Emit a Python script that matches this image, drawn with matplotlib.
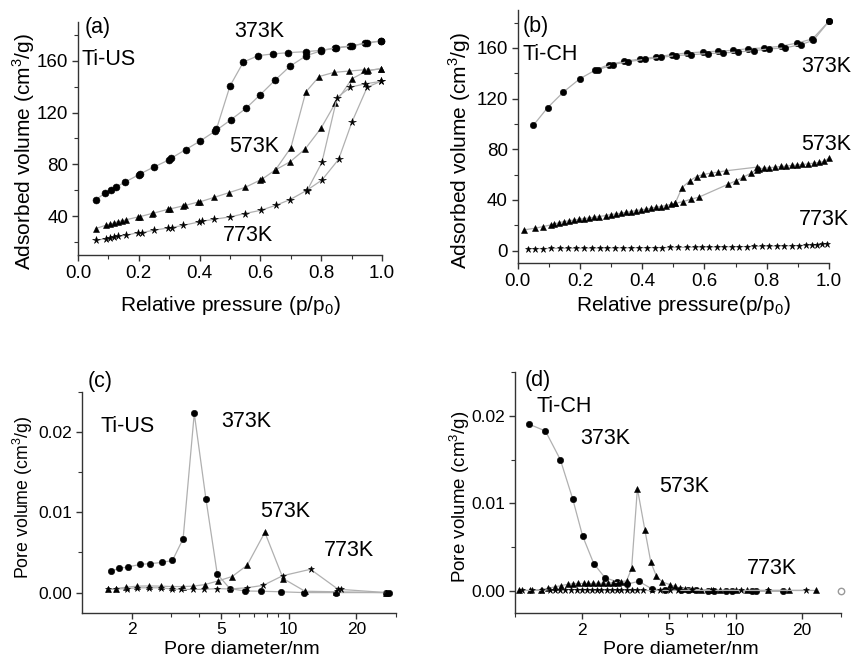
import matplotlib
matplotlib.use('Agg')
import matplotlib.pyplot as plt
from matplotlib.ticker import MultipleLocator, LogLocator, NullFormatter, FixedLocator

plt.rcParams['font.family'] = ['Liberation Sans', 'DejaVu Sans']
plt.rcParams['mathtext.fontset'] = 'custom'
plt.rcParams['mathtext.rm'] = 'Liberation Sans'

# ---------------- (a) Ti-US isotherms ----------------
a373_ads_x = [0.06, 0.09, 0.107, 0.126, 0.154, 0.200, 0.205, 0.249, 0.300, 0.305, 0.354, 0.400, 0.450,
              0.502, 0.553, 0.600, 0.648, 0.698, 0.751, 0.800, 0.846, 0.896, 0.945, 0.995]
a373_ads_y = [52.9, 58.1, 60.1, 62.7, 66.3, 72.0, 72.8, 77.9, 83.6, 84.6, 91.4, 97.8, 105.5,
              114.3, 123.4, 133.9, 145.0, 155.9, 163.9, 167.7, 169.8, 171.1, 173.7, 175.2]
a373_des_x = [0.995, 0.950, 0.900, 0.850, 0.800, 0.750, 0.690, 0.640, 0.593, 0.544, 0.500, 0.455]
a373_des_y = [175.2, 173.5, 171.5, 170.0, 168.0, 167.0, 166.2, 165.2, 163.9, 159.0, 140.6, 107.0]

a573_ads_x = [0.058, 0.091, 0.104, 0.119, 0.132, 0.146, 0.157, 0.198, 0.203, 0.242, 0.247, 0.297, 0.302,
              0.346, 0.351, 0.396, 0.401, 0.447, 0.495, 0.549, 0.599, 0.604, 0.648, 0.698, 0.747, 0.799,
              0.846, 0.901, 0.951, 0.995]
a573_ads_y = [30.5, 33.0, 33.8, 34.8, 35.9, 36.4, 37.2, 39.5, 39.6, 42.1, 42.3, 45.4, 45.6,
              48.0, 48.3, 51.0, 51.1, 54.5, 58.1, 62.2, 67.9, 68.4, 75.6, 82.1, 91.9, 107.9,
              127.2, 146.1, 152.3, 153.8]
a573_des_x = [0.995, 0.954, 0.941, 0.891, 0.842, 0.793, 0.749, 0.700, 0.650]
a573_des_y = [153.8, 152.5, 153.0, 152.0, 151.0, 147.8, 135.8, 92.9, 76.0]

a773_ads_x = [0.058, 0.091, 0.104, 0.119, 0.132, 0.157, 0.198, 0.209, 0.249, 0.297, 0.308, 0.346, 0.398,
              0.407, 0.448, 0.500, 0.549, 0.601, 0.651, 0.698, 0.753, 0.802, 0.857, 0.901, 0.951, 0.995]
a773_ads_y = [21.4, 22.7, 23.5, 24.0, 24.5, 25.3, 27.4, 27.4, 29.2, 31.0, 31.3, 33.0, 35.6,
              36.1, 37.7, 39.5, 42.1, 44.6, 48.5, 52.9, 60.1, 67.9, 83.9, 112.8, 139.6, 144.0]
a773_des_x = [0.995, 0.945, 0.896, 0.852, 0.802, 0.753]
a773_des_y = [144.0, 142.2, 139.6, 131.6, 81.5, 59.6]

# ---------------- (b) Ti-CH isotherms ----------------
b373_ads_x = [0.050, 0.096, 0.147, 0.200, 0.248, 0.292, 0.342, 0.394, 0.444, 0.495, 0.543, 0.594,
              0.642, 0.692, 0.741, 0.791, 0.845, 0.898, 0.947, 1.000]
b373_ads_y = [98.8, 112.8, 125.2, 135.7, 142.3, 146.8, 149.4, 151.3, 152.9, 154.7, 156.0, 156.8,
              157.4, 158.1, 159.4, 160.0, 161.3, 163.9, 167.1, 181.1]
b373_des_x = [1.000, 0.950, 0.909, 0.858, 0.807, 0.759, 0.708, 0.658, 0.610, 0.558, 0.508, 0.460,
              0.409, 0.355, 0.305, 0.257]
b373_des_y = [181.1, 166.0, 162.6, 160.0, 159.2, 157.9, 156.8, 156.0, 155.5, 154.7, 153.9, 152.6,
              151.0, 149.2, 146.8, 142.6]

b573_ads_x = [0.019, 0.056, 0.082, 0.107, 0.118, 0.134, 0.148, 0.164, 0.182, 0.198, 0.214, 0.230,
              0.246, 0.262, 0.283, 0.299, 0.316, 0.332, 0.348, 0.364, 0.380, 0.396, 0.412, 0.428,
              0.444, 0.460, 0.476, 0.492, 0.506, 0.532, 0.557, 0.582, 0.677, 0.701, 0.725, 0.750,
              0.768, 0.775, 0.791, 0.807, 0.827, 0.845, 0.861, 0.880, 0.898, 0.914, 0.934, 0.952,
              0.968, 0.984, 1.000]
b573_ads_y = [16.3, 17.7, 19.0, 20.3, 21.1, 22.1, 22.9, 23.5, 24.2, 24.8, 25.3, 25.8,
              26.4, 26.9, 27.7, 28.5, 29.0, 29.5, 30.3, 30.8, 31.6, 32.2, 32.7, 33.5,
              34.3, 34.8, 35.6, 36.4, 37.4, 38.7, 40.6, 42.2, 52.5, 55.1, 58.0, 61.2,
              64.0, 64.6, 65.1, 65.4, 65.9, 66.4, 66.7, 67.2, 67.5, 68.0, 68.5, 69.1,
              69.6, 70.4, 73.0]
b573_des_x = [0.768, 0.669, 0.645, 0.621, 0.596, 0.575, 0.554, 0.528, 0.506]
b573_des_y = [65.9, 63.0, 62.0, 61.2, 60.1, 58.5, 55.3, 49.8, 37.4]

b773_x = [0.033, 0.057, 0.081, 0.108, 0.135, 0.162, 0.188, 0.213, 0.239, 0.263, 0.288, 0.314, 0.339,
          0.365, 0.390, 0.415, 0.440, 0.465, 0.490, 0.515, 0.543, 0.570, 0.591, 0.616, 0.639, 0.663,
          0.687, 0.711, 0.736, 0.759, 0.784, 0.808, 0.832, 0.855, 0.880, 0.905, 0.926, 0.944, 0.960,
          0.977, 0.995]
b773_y = [1.5, 1.6, 1.6, 1.7, 1.8, 1.8, 1.9, 1.9, 2.0, 2.0, 2.1, 2.1, 2.2,
          2.2, 2.3, 2.3, 2.4, 2.4, 2.5, 2.5, 2.6, 2.7, 2.8, 2.8, 2.9, 3.0,
          3.0, 3.1, 3.2, 3.3, 3.4, 3.5, 3.6, 3.7, 3.8, 4.0, 4.2, 4.4, 4.6,
          4.9, 5.6]

# ---------------- (c) Ti-US pore size distribution ----------------
c373_x = [1.62, 1.76, 1.93, 2.18, 2.41, 2.72, 3.04, 3.39, 3.80, 4.28, 4.81, 5.47, 6.38, 7.52, 9.23,
          11.7, 16.3, 27.2, 27.8]
c373_y = [0.0027, 0.0030, 0.0032, 0.0035, 0.0036, 0.00375, 0.0040, 0.0067, 0.0223, 0.0117, 0.0023,
          0.0005, 0.0002, 0.00017, 0.0001, 0.0, 0.0, 0.0, 0.0]
c573_x = [1.57, 1.70, 1.89, 2.12, 2.40, 2.70, 3.01, 3.37, 3.76, 4.24, 4.86, 5.60, 6.53, 7.83, 9.44,
          11.8, 16.3, 27.2]
c573_y = [0.0004, 0.0005, 0.00067, 0.0008, 0.00083, 0.0008, 0.00075, 0.00075, 0.0008, 0.0010, 0.00146,
          0.0020, 0.0034, 0.0075, 0.00175, 0.00017, 0.0001, 0.0]
c773_x = [1.57, 1.71, 1.90, 2.12, 2.40, 2.70, 3.01, 3.33, 3.76, 4.20, 4.81, 5.47, 6.50, 7.70, 9.40,
          12.5, 16.6, 17.0, 27.2]
c773_y = [0.0004, 0.00045, 0.0005, 0.0006, 0.0006, 0.0006, 0.00045, 0.0004, 0.0004, 0.0004, 0.0005,
          0.00045, 0.0006, 0.0009, 0.0021, 0.0029, 0.0004, 0.0004, 0.0]

# ---------------- (d) Ti-CH pore size distribution ----------------
d373_x = [1.16, 1.37, 1.60, 1.82, 2.02, 2.27, 2.55, 2.88, 3.20, 3.63, 4.15, 4.76, 5.66, 6.1, 6.6,
          7.5, 8.0, 9.0, 9.6, 11.8, 12.3, 16.3]
d373_y = [0.0190, 0.01825, 0.0150, 0.01055, 0.0063, 0.00315, 0.00156, 0.0011, 0.0008, 0.00114, 0.0003,
          0.0001, 0.0001, 0.0001, 0.0001, 0.0, 0.0, 0.0, 0.0, 0.0, 0.0, 0.0]
d573_x = [1.04, 1.17, 1.31, 1.40, 1.51, 1.62, 1.73, 1.83, 1.93, 2.04, 2.14, 2.26, 2.38, 2.51, 2.64,
          2.78, 2.91, 3.03, 3.20, 3.37, 3.58, 3.87, 4.12, 4.37, 4.65, 5.02, 5.28, 5.57, 5.90, 6.30,
          6.99, 7.76, 8.46, 10.0, 11.3, 14.0, 17.5, 23.1]
d573_y = [0.0001, 0.0001, 0.0002, 0.00034, 0.0005, 0.00065, 0.0008, 0.00088, 0.0009, 0.0009, 0.0009,
          0.0009, 0.00092, 0.00092, 0.00095, 0.0010, 0.0010, 0.0011, 0.0012, 0.0026, 0.0117, 0.0070,
          0.0033, 0.0017, 0.00106, 0.00076, 0.00057, 0.00038, 0.0003, 0.00022, 0.00018, 0.00015,
          0.00013, 0.0001, 0.0001, 0.0001, 0.0001, 0.0001]
d773_x = [1.07, 1.19, 1.32, 1.43, 1.51, 1.60, 1.68, 1.79, 1.90, 2.00, 2.11, 2.22, 2.34, 2.46, 2.60,
          2.74, 2.88, 3.03, 3.20, 3.37, 3.55, 3.80, 4.15, 4.52, 5.02, 5.48, 6.30, 7.89, 10.6, 14.0, 20.8]
d773_y = [0.0001, 0.0001, 0.0001, 0.0002, 0.0002, 0.0002, 0.0002, 0.0002, 0.0002, 0.0002, 0.0002,
          0.0001, 0.0001, 0.0001, 0.0001, 0.0001, 0.0001, 0.0001, 0.0001, 0.0001, 0.0001, 0.0001,
          0.0001, 0.0001, 0.0001, 0.0001, 0.0001, 0.0001, 0.0001, 0.0001, 0.0001]
d_end_x = [30.0]
d_end_y = [0.0]

LINE = '#b0b0b0'
NOTE_FS = 15.5


def series(ax, x, y, marker, ms):
    ax.plot(x, y, color=LINE, lw=0.9, marker=marker, ms=ms, mfc='black', mec='black',
            mew=0.4, clip_on=False, zorder=3)


def style(ax, tick_fs):
    for side in ('top', 'right'):
        ax.spines[side].set_visible(False)
    for side in ('left', 'bottom'):
        ax.spines[side].set_color('#333333')
        ax.spines[side].set_linewidth(1.0)
    ax.tick_params(which='both', direction='out', colors='#333333', labelcolor='black',
                   labelsize=tick_fs, pad=2.5)
    ax.tick_params(which='major', length=4.5, width=1.0)
    ax.tick_params(which='minor', length=3, width=0.8)


def log_axis(ax, left):
    ax.set_xscale('log')
    ax.set_xlim(left, 30)
    ax.set_ylim(-0.0025, 0.025)
    ax.set_xticks([2, 5, 10, 20])
    ax.set_xticklabels(['2', '5', '10', '20'])
    ax.xaxis.set_minor_locator(LogLocator(base=10, subs=[1, 2, 3, 4, 5, 6, 7, 8, 9]))
    ax.xaxis.set_minor_formatter(NullFormatter())
    ax.set_yticks([0.0, 0.01, 0.02])
    ax.set_yticklabels(['0.00', '0.01', '0.02'])
    ax.yaxis.set_minor_locator(FixedLocator([0.005, 0.015, 0.025]))


fig = plt.figure(figsize=(8.52, 6.61), dpi=100)

# ---- (a)
ax = fig.add_axes([0.0915, 0.614, 0.357, 0.353])
series(ax, a373_ads_x, a373_ads_y, 'o', 5)
series(ax, a373_des_x, a373_des_y, 'o', 5)
series(ax, a573_ads_x, a573_ads_y, '^', 5)
series(ax, a573_des_x, a573_des_y, '^', 5)
series(ax, a773_ads_x, a773_ads_y, '*', 5.5)
series(ax, a773_des_x, a773_des_y, '*', 5.5)
ax.set_xlim(0, 1.0)
ax.set_ylim(10, 190)
ax.set_xticks([0.0, 0.2, 0.4, 0.6, 0.8, 1.0])
ax.xaxis.set_minor_locator(MultipleLocator(0.1))
ax.set_yticks([40, 80, 120, 160])
ax.yaxis.set_minor_locator(FixedLocator([20, 60, 100, 140, 180]))
style(ax, 13.5)
ax.set_xlabel('Relative pressure (p/p$_0$)', fontsize=15)
ax.set_ylabel('Adsorbed volume (cm$^3$/g)', fontsize=15)
ax.xaxis.set_label_coords(0.5, -0.165)
ax.yaxis.set_label_coords(-0.135, 0.444)
ax.text(0.023, 185.5, '(a)', fontsize=NOTE_FS, va='center', ha='left')
ax.text(0.012, 160.8, 'Ti-US', fontsize=NOTE_FS, va='center', ha='left')
ax.text(0.596, 182.7, '373K', fontsize=NOTE_FS, va='center', ha='center')
ax.text(0.579, 93.7, '573K', fontsize=NOTE_FS, va='center', ha='center')
ax.text(0.560, 25.3, '773K', fontsize=NOTE_FS, va='center', ha='center')

# ---- (b)
ax = fig.add_axes([0.6076, 0.6017, 0.3654, 0.3833])
series(ax, b373_ads_x, b373_ads_y, 'o', 4.6)
series(ax, b373_des_x, b373_des_y, 'o', 4.6)
series(ax, b573_ads_x, b573_ads_y, '^', 4.4)
series(ax, b573_des_x, b573_des_y, '^', 4.4)
series(ax, b773_x, b773_y, '*', 5)
ax.set_xlim(0, 1.0)
ax.set_ylim(-10, 190)
ax.set_xticks([0.0, 0.2, 0.4, 0.6, 0.8, 1.0])
ax.xaxis.set_minor_locator(MultipleLocator(0.1))
ax.set_yticks([0, 40, 80, 120, 160])
ax.yaxis.set_minor_locator(FixedLocator([20, 60, 100, 140, 180]))
style(ax, 13.5)
ax.set_xlabel('Relative pressure(p/p$_0$)', fontsize=15)
ax.set_ylabel('Adsorbed volume (cm$^3$/g)', fontsize=15)
ax.xaxis.set_label_coords(0.533, -0.12)
ax.yaxis.set_label_coords(-0.144, 0.444)
ax.text(0.016, 177, '(b)', fontsize=NOTE_FS, va='center', ha='left')
ax.text(0.016, 154.7, 'Ti-CH', fontsize=NOTE_FS, va='center', ha='left')
ax.text(1.07, 145.5, '373K', fontsize=NOTE_FS, va='center', ha='right', clip_on=False)
ax.text(1.07, 83.6, '573K', fontsize=NOTE_FS, va='center', ha='right', clip_on=False)
ax.text(1.065, 24.3, '773K', fontsize=NOTE_FS, va='center', ha='right', clip_on=False)

# ---- (c)
ax = fig.add_axes([0.0959, 0.0731, 0.3689, 0.3343])
series(ax, c373_x, c373_y, 'o', 4.6)
series(ax, c573_x, c573_y, '^', 4.6)
series(ax, c773_x, c773_y, '*', 4.8)
log_axis(ax, 1.2)
style(ax, 12.5)
ax.set_xlabel('Pore diameter/nm', fontsize=14)
ax.set_ylabel('Pore volume (cm$^3$/g)', fontsize=12.8)
ax.xaxis.set_label_coords(0.509, -0.128)
ax.yaxis.set_label_coords(-0.149, 0.521)
ax.text(1.28, 0.0263, '(c)', fontsize=NOTE_FS, va='center', ha='left', clip_on=False)
ax.text(1.93, 0.0207, 'Ti-US', fontsize=NOTE_FS, va='center', ha='center')
ax.text(6.44, 0.0213, '373K', fontsize=NOTE_FS, va='center', ha='center')
ax.text(9.6, 0.0101, '573K', fontsize=NOTE_FS, va='center', ha='center')
ax.text(18.5, 0.0053, '773K', fontsize=NOTE_FS, va='center', ha='center')

# ---- (d)
ax = fig.add_axes([0.6048, 0.0722, 0.3822, 0.3655])
series(ax, d373_x, d373_y, 'o', 4.6)
series(ax, d573_x, d573_y, '^', 4.4)
series(ax, d773_x, d773_y, '*', 4.6)
ax.plot(d_end_x, d_end_y, linestyle='none', marker='o', ms=4.6, mfc='white', mec='#999999',
        clip_on=False, zorder=3)
log_axis(ax, 1.0)
style(ax, 12.5)
ax.set_xlabel('Pore diameter/nm', fontsize=14)
ax.set_ylabel('Pore volume (cm$^3$/g)', fontsize=13.5)
ax.xaxis.set_label_coords(0.509, -0.115)
ax.yaxis.set_label_coords(-0.134, 0.483)
ax.text(1.1, 0.0240, '(d)', fontsize=NOTE_FS, va='center', ha='left')
ax.text(1.67, 0.0210, 'Ti-CH', fontsize=NOTE_FS, va='center', ha='center')
ax.text(2.56, 0.0174, '373K', fontsize=NOTE_FS, va='center', ha='center')
ax.text(5.83, 0.0119, '573K', fontsize=NOTE_FS, va='center', ha='center')
ax.text(14.6, 0.0026, '773K', fontsize=NOTE_FS, va='center', ha='center')

fig.savefig('out.png', dpi=100)
